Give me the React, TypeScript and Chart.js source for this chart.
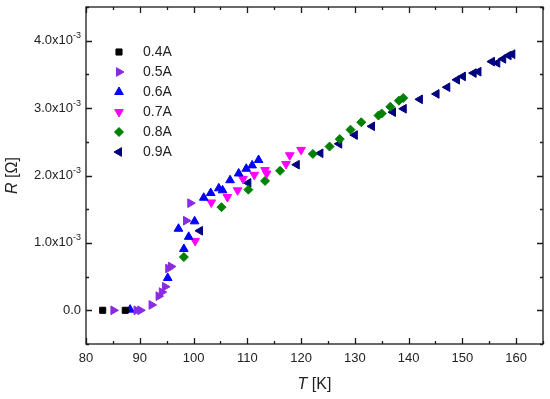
import React, { useEffect, useRef } from "react";
import { Chart, registerables } from "chart.js";
import { drawPoint } from "chart.js/helpers";

Chart.register(...registerables);

// R values are in units of 1e-3 Ω
const series04_T = [83.1, 87.3];
const series04_R = [0, 0];
const series05_T = [85.1, 89.4, 90.1, 92.2, 93.5, 94.1, 94.7, 95.3, 95.8, 98.6, 99.4];
const series05_R = [0, 0, 0, 0.08, 0.21, 0.27, 0.35, 0.62, 0.65, 1.33, 1.59];
const series06_T = [88.2, 95.2, 97.2, 98.2, 99.1, 100.2, 101.9, 103.2, 104.7, 105.4, 106.8, 108.4, 109.8, 110.9, 112.1];
const series06_R = [0.01, 0.48, 1.21, 0.91, 1.09, 1.32, 1.67, 1.74, 1.81, 1.78, 1.93, 2.03, 2.1, 2.15, 2.23];
const series07_T = [100.3, 103.3, 106.3, 108.2, 109.2, 111.3, 113.3, 113.6, 117.2, 117.9, 120.0];
const series07_R = [1.03, 1.6, 1.68, 1.78, 1.95, 2.01, 2.08, 2.03, 2.17, 2.3, 2.38];
const series08_T = [98.2, 105.2, 110.2, 113.3, 116.1, 122.2, 125.3, 127.2, 129.2, 131.2, 134.4, 135.0, 136.6, 138.2, 139.0];
const series08_R = [0.79, 1.53, 1.79, 1.92, 2.07, 2.32, 2.43, 2.54, 2.68, 2.79, 2.89, 2.92, 3.02, 3.11, 3.15];
const series09_T = [101.2, 110.2, 119.2, 123.6, 127.1, 130.0, 133.2, 137.1, 139.1, 142.1, 145.2, 147.2, 149.0, 150.1, 152.1, 153.0, 155.5, 156.5, 157.6, 158.6, 159.3];
const series09_R = [1.18, 1.89, 2.16, 2.33, 2.47, 2.6, 2.73, 2.94, 2.99, 3.13, 3.21, 3.31, 3.42, 3.47, 3.52, 3.54, 3.69, 3.67, 3.73, 3.78, 3.8];

const seriesLabels = ["0.4A", "0.5A", "0.6A", "0.7A", "0.8A", "0.9A"];
const seriesColors = ["#000000", "#8a2be2", "#0000ff", "#ff00ff", "#008000", "#000080"];
const seriesStyles = ["rect", "triangle", "triangle", "triangle", "rectRot", "triangle"];
const seriesRotations = [0, 90, 0, 180, 0, 270];
const seriesRadius = [4.3, 5, 5, 5, 4.5, 5];

const xTitle = ["T", " [K]"];
const yTitle = ["R", " [Ω]"];
const X_MIN = 80, X_MAX = 165, X_STEP = 5;
const Y_MIN = -0.5, Y_MAX = 4.5, Y_STEP = 0.5;

const FONT = "'Liberation Sans', Arial, sans-serif";

const allT = [series04_T, series05_T, series06_T, series07_T, series08_T, series09_T];
const allR = [series04_R, series05_R, series06_R, series07_R, series08_R, series09_R];

const framePlugin = {
  id: "frame",
  afterDraw(chart: any) {
    const { ctx, chartArea } = chart;
    const { left, right, top, bottom } = chartArea;
    const xs = chart.scales.x;
    const ys = chart.scales.y;
    ctx.save();
    ctx.strokeStyle = "#1a1a1a";
    ctx.lineWidth = 1.3;
    ctx.strokeRect(left, top, right - left, bottom - top);
    ctx.beginPath();
    xs.ticks.forEach((t: any) => {
      const px = Math.round(xs.getPixelForValue(t.value)) + 0.5;
      const major = Math.abs(t.value % 10) < 1e-6;
      const len = major ? 6 : 3;
      ctx.moveTo(px, bottom);
      ctx.lineTo(px, bottom - len);
      ctx.moveTo(px, top);
      ctx.lineTo(px, top + len);
    });
    ys.ticks.forEach((t: any) => {
      const py = Math.round(ys.getPixelForValue(t.value)) + 0.5;
      const major = Math.abs(t.value - Math.round(t.value)) < 1e-6;
      const len = major ? 6 : 3;
      ctx.moveTo(left, py);
      ctx.lineTo(left + len, py);
      ctx.moveTo(right, py);
      ctx.lineTo(right - len, py);
    });
    ctx.stroke();

    // tick labels
    ctx.fillStyle = "#222";
    ctx.font = `13px ${FONT}`;
    ctx.textAlign = "center";
    ctx.textBaseline = "middle";
    xs.ticks.forEach((t: any) => {
      if (Math.abs(t.value % 10) < 1e-6 && t.value <= 160) {
        ctx.fillText(String(t.value), xs.getPixelForValue(t.value), 358);
      }
    });
    ys.ticks.forEach((t: any) => {
      const v = t.value;
      if (Math.abs(v - Math.round(v)) > 1e-6 || v < 0 || v > 4) return;
      const py = ys.getPixelForValue(v);
      const rx = left - 5;
      ctx.textAlign = "right";
      if (Math.round(v) === 0) {
        ctx.font = `13px ${FONT}`;
        ctx.fillText("0.0", rx, py);
      } else {
        ctx.font = `9px ${FONT}`;
        const sup = "-3";
        const sw = ctx.measureText(sup).width;
        ctx.fillText(sup, rx, py - 5);
        ctx.font = `13px ${FONT}`;
        ctx.fillText(`${v.toFixed(1)}x10`, rx - sw, py);
      }
    });

    // axis titles
    const drawMixed = (parts: string[], cx: number, cy: number) => {
      ctx.textBaseline = "middle";
      ctx.textAlign = "left";
      ctx.font = `italic 16px ${FONT}`;
      const w0 = ctx.measureText(parts[0]).width;
      ctx.font = `16px ${FONT}`;
      const w1 = ctx.measureText(parts[1]).width;
      const sx = cx - (w0 + w1) / 2;
      ctx.font = `italic 16px ${FONT}`;
      ctx.fillText(parts[0], sx, cy);
      ctx.font = `16px ${FONT}`;
      ctx.fillText(parts[1], sx + w0, cy);
    };
    drawMixed(xTitle, (left + right) / 2, 385);
    ctx.save();
    ctx.translate(13, (top + bottom) / 2);
    ctx.rotate(-Math.PI / 2);
    drawMixed(yTitle, 0, 0);
    ctx.restore();

    // legend
    seriesLabels.forEach((lab, i) => {
      const y = 52 + i * 20;
      ctx.fillStyle = seriesColors[i];
      ctx.strokeStyle = seriesColors[i];
      ctx.lineWidth = 1;
      drawPoint(ctx, { pointStyle: seriesStyles[i], rotation: seriesRotations[i], radius: seriesRadius[i], borderWidth: 1 } as any, 119, y);
      ctx.fillStyle = "#222";
      ctx.font = `14px ${FONT}`;
      ctx.textAlign = "left";
      ctx.textBaseline = "middle";
      ctx.fillText(lab, 143, y);
    });
    ctx.restore();
  },
};

export default function App() {
  const ref = useRef<HTMLCanvasElement | null>(null);
  useEffect(() => {
    if (!ref.current) return;
    const datasets = seriesLabels.map((lab, i) => ({
      label: lab,
      data: allT[i].map((t, k) => ({ x: t, y: allR[i][k] })),
      pointStyle: seriesStyles[i],
      rotation: seriesRotations[i],
      pointRadius: seriesRadius[i],
      backgroundColor: seriesColors[i],
      borderColor: seriesColors[i],
      borderWidth: 1,
      showLine: false,
    }));
    const chart = new Chart(ref.current, {
      type: "scatter",
      data: { datasets },
      plugins: [framePlugin],
      options: {
        animation: false,
        responsive: true,
        maintainAspectRatio: false,
        layout: { padding: { top: 7, right: 7, left: 0, bottom: 0 } },
        plugins: { legend: { display: false }, tooltip: { enabled: false } },
        scales: {
          x: {
            type: "linear",
            min: X_MIN,
            max: X_MAX,
            ticks: { stepSize: X_STEP, display: false },
            grid: { display: false },
            border: { display: false },
            afterFit: (s: any) => { s.height = 55; },
          },
          y: {
            type: "linear",
            min: Y_MIN,
            max: Y_MAX,
            ticks: { stepSize: Y_STEP, display: false },
            grid: { display: false },
            border: { display: false },
            afterFit: (s: any) => { s.width = 86; },
          },
        },
      } as any,
    });
    return () => chart.destroy();
  }, []);
  return (
    <div style={{ position: "fixed", left: 0, top: 0, width: 550, height: 399, background: "#fff" }}>
      <canvas ref={ref} />
    </div>
  );
}
